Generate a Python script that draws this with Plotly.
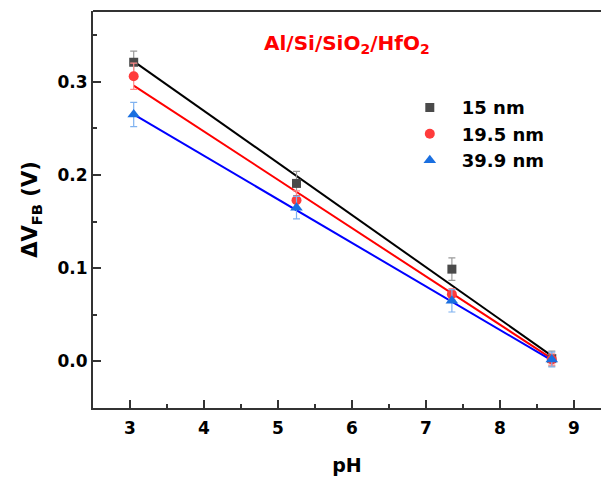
import plotly.graph_objects as go

ph = [3.05, 5.25, 7.35, 8.7]
v15 = [0.321, 0.191, 0.099, 0.003]
e15 = [0.012, 0.013, 0.012, 0.008]
v195 = [0.306, 0.173, 0.072, 0.002]
e195 = [0.014, 0.010, 0.006, 0.006]
v399 = [0.265, 0.165, 0.065, 0.002]
e399 = [0.013, 0.012, 0.012, 0.008]

fit_x = [3.05, 8.7]
fit15 = [0.322, 0.006]
fit195 = [0.296, 0.003]
fit399 = [0.265, 0.001]

names = ["15 nm", "19.5 nm", "39.9 nm"]
xticks = [3, 4, 5, 6, 7, 8, 9]
yticks = [0.0, 0.1, 0.2, 0.3]

FAM = "DejaVu Sans"

fig = go.Figure()
for fy, col in [(fit15, "#000000"), (fit195, "#ff0000"), (fit399, "#0000ff")]:
    fig.add_trace(go.Scatter(x=fit_x, y=fy, mode="lines", line=dict(color=col, width=2),
                             showlegend=False, hoverinfo="skip"))

series = [
    (v15, e15, names[0], "square", "#4a4a4a", "#9a9a9a", 9),
    (v195, e195, names[1], "circle", "#ff3b3b", "#ff8a8a", 10),
    (v399, e399, names[2], "triangle-up", "#1a6fe0", "#7fb2f0", 11),
]
for y, e, n, sym, col, ecol, sz in series:
    fig.add_trace(go.Scatter(
        x=ph, y=y, mode="markers", name=f"<b>{n}</b>",
        marker=dict(symbol=sym, color=col, size=sz, line=dict(width=0)),
        error_y=dict(type="data", array=e, visible=True, color=ecol, thickness=1.2, width=3.5),
    ))

fig.add_annotation(x=0.5, y=0.955, xref="paper", yref="paper",
                   text="<b>Al/Si/SiO<sub>2</sub>/HfO<sub>2</sub></b>", showarrow=False,
                   font=dict(family=FAM, size=20, color="#ff0000"))

# top frame line
fig.add_shape(type="line", xref="paper", yref="paper", x0=0, x1=1, y0=1, y1=1,
              line=dict(color="#333", width=2))

font = dict(family=FAM, size=17, color="#000000")
fig.update_layout(
    width=601, height=479,
    margin=dict(l=93, r=0, t=11, b=71),
    plot_bgcolor="white", paper_bgcolor="white",
    font=font,
    showlegend=True,
    legend=dict(x=0.60, y=0.803, xanchor="left", yanchor="top", itemwidth=54,
                bgcolor="rgba(0,0,0,0)", font=dict(family=FAM, size=18, color="#000"),
                itemsizing="trace", tracegroupgap=0),
    xaxis=dict(range=[2.5, 9.365], tickvals=xticks, ticktext=[f"<b>{t}</b>" for t in xticks],
               ticks="inside", ticklen=8, tickwidth=1.5, tickcolor="#333", ticklabelstandoff=4,
               minor=dict(dtick=0.5, ticks="inside", ticklen=4, tickwidth=1.5, tickcolor="#333"),
               showline=True, linecolor="#333", linewidth=2, mirror=False,
               showgrid=False, zeroline=False,
               title=dict(text="<b>pH</b>", standoff=21, font=dict(family=FAM, size=19)), tickfont=font),
    yaxis=dict(range=[-0.05, 0.376], tickvals=yticks, ticktext=[f"<b>{t:.1f}</b>" for t in yticks],
               ticks="inside", ticklen=8, tickwidth=1.5, tickcolor="#333",
               minor=dict(dtick=0.05, ticks="inside", ticklen=4, tickwidth=1.5, tickcolor="#333"),
               showline=True, linecolor="#333", linewidth=2, mirror=False,
               showgrid=False, zeroline=False,
               title=dict(text="<b>ΔV<sub>FB</sub> (V)</b>", standoff=14, font=dict(family=FAM, size=21)),
               tickfont=font),
)
fig.write_html("out.html")
